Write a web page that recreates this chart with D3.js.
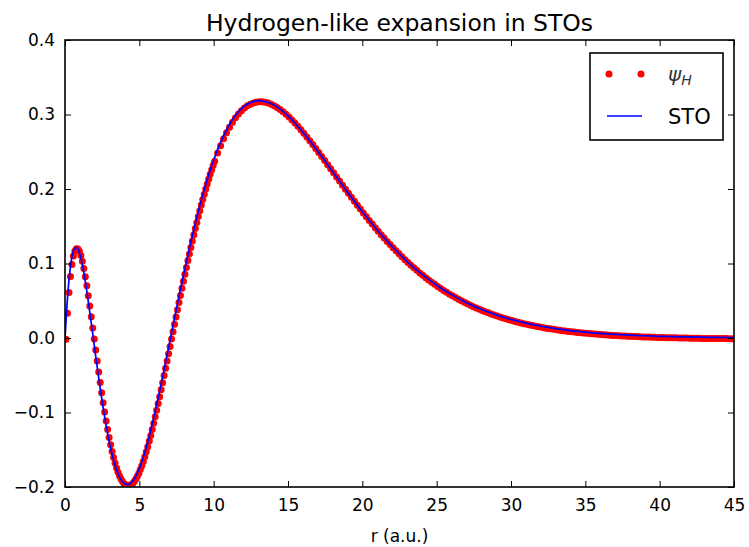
<!DOCTYPE html>
<html>
<head>
<meta charset="utf-8">
<script src="https://cdn.jsdelivr.net/npm/d3@7"></script>
<style>
  html, body { margin: 0; padding: 0; background: #fff; }
  svg { display: block; font-family: "DejaVu Sans", sans-serif; }
  .tick text { font-size: 17px; fill: #000; }
  .tick line { stroke: #000; stroke-width: 1; }
</style>
</head>
<body>
<svg id="chart" width="749" height="547"></svg>
<script>
// psi_H samples (red dots)
const rH = [
  0, 0.1, 0.2, 0.3, 0.4, 0.5, 0.6, 0.7, 0.8, 0.9, 1.0,
  1.1, 1.2, 1.3, 1.4, 1.5, 1.6, 1.7, 1.8, 1.9, 2.0,
  2.1, 2.2, 2.3, 2.4, 2.5, 2.6, 2.7, 2.8, 2.9, 3.0,
  3.1, 3.2, 3.3, 3.4, 3.5, 3.6, 3.7, 3.8, 3.9, 4.0,
  4.1, 4.2, 4.3, 4.4, 4.5, 4.6, 4.7, 4.8, 4.9, 5.0,
  5.1, 5.2, 5.3, 5.4, 5.5, 5.6, 5.7, 5.8, 5.9, 6.0,
  6.1, 6.2, 6.3, 6.4, 6.5, 6.6, 6.7, 6.8, 6.9, 7.0,
  7.1, 7.2, 7.3, 7.4, 7.5, 7.6, 7.7, 7.8, 7.9, 8.0,
  8.1, 8.2, 8.3, 8.4, 8.5, 8.6, 8.7, 8.8, 8.9, 9.0,
  9.1, 9.2, 9.3, 9.4, 9.5, 9.6, 9.7, 9.8, 9.9, 10.0,
  10.2, 10.4, 10.6, 10.8, 11.0, 11.2, 11.4, 11.6, 11.8, 12.0,
  12.2, 12.4, 12.6, 12.8, 13.0, 13.2, 13.4, 13.6, 13.8, 14.0,
  14.2, 14.4, 14.6, 14.8, 15.0, 15.2, 15.4, 15.6, 15.8, 16.0,
  16.2, 16.4, 16.6, 16.8, 17.0, 17.2, 17.4, 17.6, 17.8, 18.0,
  18.2, 18.4, 18.6, 18.8, 19.0, 19.2, 19.4, 19.6, 19.8, 20.0,
  20.2, 20.4, 20.6, 20.8, 21.0, 21.2, 21.4, 21.6, 21.8, 22.0,
  22.2, 22.4, 22.6, 22.8, 23.0, 23.2, 23.4, 23.6, 23.8, 24.0,
  24.2, 24.4, 24.6, 24.8, 25.0, 25.2, 25.4, 25.6, 25.8, 26.0,
  26.2, 26.4, 26.6, 26.8, 27.0, 27.2, 27.4, 27.6, 27.8, 28.0,
  28.2, 28.4, 28.6, 28.8, 29.0, 29.2, 29.4, 29.6, 29.8, 30.0,
  30.2, 30.4, 30.6, 30.8, 31.0, 31.2, 31.4, 31.6, 31.8, 32.0,
  32.2, 32.4, 32.6, 32.8, 33.0, 33.2, 33.4, 33.6, 33.8, 34.0,
  34.2, 34.4, 34.6, 34.8, 35.0, 35.2, 35.4, 35.6, 35.8, 36.0,
  36.2, 36.4, 36.6, 36.8, 37.0, 37.2, 37.4, 37.6, 37.8, 38.0,
  38.2, 38.4, 38.6, 38.8, 39.0, 39.2, 39.4, 39.6, 39.8, 40.0,
  40.2, 40.4, 40.6, 40.8, 41.0, 41.2, 41.4, 41.6, 41.8, 42.0,
  42.2, 42.4, 42.6, 42.8, 43.0, 43.2, 43.4, 43.6, 43.8, 44.0,
  44.2, 44.4, 44.6, 44.8, 45.0
];
const psiH = [
  0, 0.0348, 0.0626, 0.0843, 0.1004, 0.1116, 0.1185, 0.1215, 0.1212, 0.1181, 0.1124,
  0.1046, 0.0950, 0.0839, 0.0716, 0.0584, 0.0444, 0.0300, 0.0152, 0.0003, -0.0146,
  -0.0294, -0.0440, -0.0582, -0.0720, -0.0852, -0.0978, -0.1099, -0.1212, -0.1318, -0.1416,
  -0.1506, -0.1589, -0.1663, -0.1729, -0.1787, -0.1836, -0.1878, -0.1911, -0.1936, -0.1954,
  -0.1964, -0.1967, -0.1962, -0.1951, -0.1932, -0.1908, -0.1877, -0.1840, -0.1798, -0.1750,
  -0.1697, -0.1640, -0.1578, -0.1512, -0.1442, -0.1368, -0.1291, -0.1211, -0.1127, -0.1042,
  -0.0954, -0.0863, -0.0772, -0.0679, -0.0584, -0.0488, -0.0391, -0.0293, -0.0195, -0.0097,
  0.0002, 0.0101, 0.0199, 0.0297, 0.0395, 0.0492, 0.0588, 0.0684, 0.0778, 0.0872,
  0.0964, 0.1055, 0.1144, 0.1232, 0.1318, 0.1403, 0.1486, 0.1568, 0.1647, 0.1725,
  0.1801, 0.1874, 0.1946, 0.2016, 0.2084, 0.2149, 0.2213, 0.2274, 0.2334, 0.2390,
  0.2498, 0.2598, 0.2689, 0.2772, 0.2846, 0.2912, 0.2971, 0.3022, 0.3065, 0.3102,
  0.3132, 0.3154, 0.3171, 0.3181, 0.3186, 0.3186, 0.3180, 0.3169, 0.3154, 0.3134,
  0.3111, 0.3084, 0.3053, 0.3019, 0.2982, 0.2943, 0.2901, 0.2857, 0.2812, 0.2764,
  0.2715, 0.2664, 0.2613, 0.2560, 0.2507, 0.2453, 0.2398, 0.2343, 0.2288, 0.2233,
  0.2177, 0.2122, 0.2067, 0.2012, 0.1958, 0.1904, 0.1851, 0.1798, 0.1746, 0.1694,
  0.1644, 0.1594, 0.1545, 0.1497, 0.1450, 0.1403, 0.1358, 0.1313, 0.1270, 0.1228,
  0.1186, 0.1146, 0.1106, 0.1068, 0.1030, 0.0994, 0.0958, 0.0924, 0.0890, 0.0857,
  0.0826, 0.0795, 0.0765, 0.0736, 0.0709, 0.0681, 0.0655, 0.0630, 0.0605, 0.0582,
  0.0559, 0.0537, 0.0515, 0.0495, 0.0475, 0.0455, 0.0437, 0.0419, 0.0402, 0.0385,
  0.0369, 0.0354, 0.0339, 0.0325, 0.0311, 0.0298, 0.0285, 0.0273, 0.0261, 0.0250,
  0.0239, 0.0229, 0.0219, 0.0209, 0.0200, 0.0191, 0.0183, 0.0175, 0.0167, 0.0159,
  0.0152, 0.0145, 0.0139, 0.0133, 0.0127, 0.0121, 0.0115, 0.0110, 0.0105, 0.0100,
  0.0096, 0.0091, 0.0087, 0.0083, 0.0079, 0.0075, 0.0072, 0.0069, 0.0065, 0.0062,
  0.0059, 0.0056, 0.0054, 0.0051, 0.0049, 0.0046, 0.0044, 0.0042, 0.0040, 0.0038,
  0.0036, 0.0035, 0.0033, 0.0031, 0.0030, 0.0028, 0.0027, 0.0026, 0.0024, 0.0023,
  0.0022, 0.0021, 0.0020, 0.0019, 0.0018, 0.0017, 0.0016, 0.0015, 0.0015, 0.0014,
  0.0013, 0.0013, 0.0012, 0.0011, 0.0011, 0.0010, 0.0010, 0.0009, 0.0009, 0.0008,
  0.0008, 0.0008, 0.0007, 0.0007, 0.0006
];

// STO expansion (blue line)
const rSTO = [
  0, 0.2, 0.4, 0.6, 0.8, 1.0, 1.2, 1.4, 1.6, 1.8, 2.0, 2.2, 2.4, 2.6, 2.8, 3.0,
  3.2, 3.4, 3.6, 3.8, 4.0, 4.2, 4.4, 4.6, 4.8, 5.0, 5.2, 5.4, 5.6, 5.8, 6.0,
  6.2, 6.4, 6.6, 6.8, 7.0, 7.2, 7.4, 7.6, 7.8, 8.0, 8.2, 8.4, 8.6, 8.8, 9.0,
  9.2, 9.4, 9.6, 9.8, 10, 11, 12, 13, 14, 15, 16, 17, 18, 19, 20, 21, 22, 23,
  24, 25, 26, 27, 28, 29, 30, 31, 32, 33, 34, 35, 36, 37, 38, 39, 40, 41, 42,
  43, 44, 45
];
const sto = [
  0, 0.0626, 0.1004, 0.1185, 0.1212, 0.1124, 0.0950, 0.0716, 0.0444, 0.0152,
  -0.0146, -0.0440, -0.0720, -0.0978, -0.1212, -0.1416, -0.1589, -0.1729, -0.1836,
  -0.1911, -0.1954, -0.1967, -0.1951, -0.1908, -0.1840, -0.1750, -0.1640, -0.1512,
  -0.1368, -0.1211, -0.1042, -0.0863, -0.0679, -0.0488, -0.0293, -0.0097, 0.0101,
  0.0297, 0.0492, 0.0684, 0.0872, 0.1055, 0.1232, 0.1403, 0.1568, 0.1725, 0.1874,
  0.2016, 0.2149, 0.2274, 0.2390, 0.2846, 0.3102, 0.3186, 0.3134, 0.2982, 0.2764,
  0.2507, 0.2233, 0.1958, 0.1694, 0.1450, 0.1228, 0.1030, 0.0857, 0.0709, 0.0582,
  0.0475, 0.0385, 0.0311, 0.0250, 0.0200, 0.0159, 0.0127, 0.0100, 0.0079, 0.0062,
  0.0049, 0.0038, 0.0030, 0.0023, 0.0018, 0.0014, 0.0011, 0.0008, 0.0006
];

const xTicks = [0, 5, 10, 15, 20, 25, 30, 35, 40, 45];
const yTicks = [-0.2, -0.1, 0.0, 0.1, 0.2, 0.3, 0.4];

const svg = d3.select('#chart');
const pLeft = 65, pRight = 734, pTop = 40, pBottom = 487;

const x = d3.scaleLinear().domain([0, 45]).range([pLeft, pRight]);
const y = d3.scaleLinear().domain([-0.2, 0.4]).range([pBottom, pTop]);

svg.append('defs').append('clipPath').attr('id', 'plot-clip')
  .append('rect')
  .attr('x', pLeft).attr('y', pTop)
  .attr('width', pRight - pLeft).attr('height', pBottom - pTop);

const plot = svg.append('g').attr('clip-path', 'url(#plot-clip)');

// red dots (psi_H), nudged slightly like the raster markers
plot.append('g')
  .attr('transform', 'translate(1,1.2)')
  .selectAll('circle')
  .data(rH.map((r, i) => [r, psiH[i]]))
  .join('circle')
  .attr('cx', d => x(d[0]))
  .attr('cy', d => y(d[1]))
  .attr('r', 3.5)
  .attr('fill', '#ff0000');

// blue STO line
const line = d3.line()
  .x((d, i) => x(rSTO[i]))
  .y(d => y(d))
  .curve(d3.curveMonotoneX);

plot.append('path')
  .datum(sto)
  .attr('d', line)
  .attr('fill', 'none')
  .attr('stroke', '#0000ff')
  .attr('stroke-width', 1.7);

// axes, ticks pointing inward on all four sides
const fmtY = d3.format('.1f');

svg.append('g')
  .attr('transform', `translate(0,${pBottom})`)
  .call(d3.axisBottom(x).tickValues(xTicks).tickSize(-6).tickPadding(12).tickFormat(d3.format('d')))
  .call(g => g.select('.domain').remove());

svg.append('g')
  .attr('transform', `translate(0,${pTop})`)
  .call(d3.axisTop(x).tickValues(xTicks).tickSize(-6).tickFormat(''))
  .call(g => g.select('.domain').remove());

svg.append('g')
  .attr('transform', `translate(${pLeft},0)`)
  .call(d3.axisLeft(y).tickValues(yTicks).tickSize(-6).tickPadding(10).tickFormat(fmtY))
  .call(g => g.select('.domain').remove());

svg.append('g')
  .attr('transform', `translate(${pRight},0)`)
  .call(d3.axisRight(y).tickValues(yTicks).tickSize(-6).tickFormat(''))
  .call(g => g.select('.domain').remove());

svg.selectAll('.tick text').attr('font-family', '"DejaVu Sans", sans-serif');

// frame
svg.append('rect')
  .attr('x', pLeft).attr('y', pTop)
  .attr('width', pRight - pLeft).attr('height', pBottom - pTop)
  .attr('fill', 'none')
  .attr('stroke', '#000')
  .attr('stroke-width', 1.6);

// title and axis label
svg.append('text')
  .attr('x', (pLeft + pRight) / 2).attr('y', 31)
  .attr('text-anchor', 'middle')
  .attr('font-size', 23.5)
  .text('Hydrogen-like expansion in STOs');

svg.append('text')
  .attr('x', (pLeft + pRight) / 2).attr('y', 542)
  .attr('text-anchor', 'middle')
  .attr('font-size', 17)
  .text('r (a.u.)');

// legend
const lg = svg.append('g');
lg.append('rect')
  .attr('x', 590).attr('y', 53)
  .attr('width', 133).attr('height', 87)
  .attr('fill', '#fff')
  .attr('stroke', '#000')
  .attr('stroke-width', 1.6);

lg.selectAll('circle.lg-dot')
  .data([609, 641])
  .join('circle')
  .attr('class', 'lg-dot')
  .attr('cx', d => d).attr('cy', 74)
  .attr('r', 3.5)
  .attr('fill', '#ff0000');

const psiLabel = lg.append('text')
  .attr('x', 668).attr('y', 81)
  .attr('font-size', 20)
  .attr('font-style', 'italic')
  .attr('fill', '#333');
psiLabel.append('tspan').text('ψ');
psiLabel.append('tspan').attr('font-size', 14).attr('dy', 4).text('H');

lg.append('line')
  .attr('x1', 607).attr('x2', 642)
  .attr('y1', 116).attr('y2', 116)
  .attr('stroke', '#0000ff')
  .attr('stroke-width', 1.7);

lg.append('text')
  .attr('x', 668).attr('y', 124)
  .attr('font-size', 21)
  .text('STO');
</script>
</body>
</html>
